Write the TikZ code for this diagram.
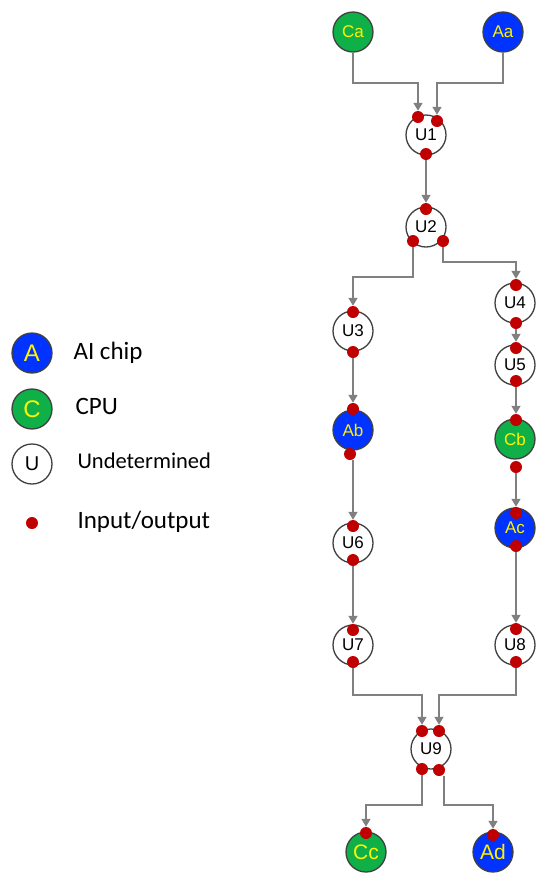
\documentclass[tikz,border=0pt]{standalone}
\usepackage{fontspec}
\setmainfont{Liberation Sans}
\newfontfamily\legendfont{Carlito}
\usetikzlibrary{arrows.meta}
\definecolor{chipblue}{RGB}{0,51,255}
\definecolor{cpugreen}{RGB}{16,176,72}
\definecolor{portred}{RGB}{192,0,0}
\definecolor{linkgray}{RGB}{128,128,128}
\definecolor{rimgray}{RGB}{64,64,64}
\newcommand\keysize{\fontsize{24}{24}\selectfont}
\tikzset{
    unit/.style={circle, draw=rimgray, line width=1.3pt, fill=white, minimum size=40pt, inner sep=0pt, font=\fontsize{17}{17}\selectfont},
    chip/.style={unit, fill=chipblue, text=yellow},
    cpu/.style={unit, fill=cpugreen, text=yellow},
    port/.style={circle, fill=portred, minimum size=12pt, inner sep=0pt},
    link/.style={draw=linkgray, line width=1.5pt, -{Triangle[width=9pt,length=8pt]}},
    legendtext/.style={anchor=west, font=\legendfont\fontsize{25}{25}\selectfont}
}
\begin{document}
\begin{tikzpicture}[x=1pt, y=-1pt]
    \useasboundingbox (0,0) rectangle (536,873);
    % 图例
    \node[chip] (keyA) at (32,353) {\keysize A};
    \node[legendtext] (keyAt) at (70,353) {AI chip};
    \node[cpu] (keyC) at (32,409) {\keysize C};
    \node[legendtext] (keyCt) at (72,406) {CPU};
    \node[unit] (keyU) at (32,464) {\fontsize{20}{20}\selectfont U};
    \node[legendtext, font=\legendfont\fontsize{22.5}{22.5}\selectfont] (keyUt) at (74,461) {Undetermined};
    \node[port] (keyP) at (32,523) {};
    \node[legendtext] (keyPt) at (74,522) {Input/output};
    % 单元
    \node[cpu] (ca) at (353,32) {Ca};
    \node[chip] (aa) at (503,32) {Aa};
    \node[unit] (u1) at (426,135) {U1};
    \node[unit] (u2) at (426,227) {U2};
    \node[unit] (u3) at (353,331) {U3};
    \node[unit] (u4) at (515,303) {U4};
    \node[unit] (u5) at (515,365) {U5};
    \node[chip] (ab) at (353,430) {Ab};
    \node[cpu] (cb) at (515,439) {Cb};
    \node[chip] (ac) at (515,528) {Ac};
    \node[unit] (u6) at (353,543) {U6};
    \node[unit] (u7) at (353,645) {U7};
    \node[unit] (u8) at (515,645) {U8};
    \node[unit] (u9) at (431,749) {U9};
    \node[cpu] (cc) at (366,852) {\fontsize{21}{21}\selectfont Cc};
    \node[chip] (ad) at (493,852) {\fontsize{21}{21}\selectfont Ad};
    % 输入/输出端口
    \node[port] (u1i1) at (418,117) {};
    \node[port] (u1i2) at (437,121) {};
    \node[port] (u1o) at (426,154) {};
    \node[port] (u2i) at (426,209) {};
    \node[port] (u2o1) at (413,241) {};
    \node[port] (u2o2) at (443,241) {};
    \node[port] (u3i) at (353,312) {};
    \node[port] (u3o) at (353,352) {};
    \node[port] (u4i) at (516,285) {};
    \node[port] (u4o) at (516,323) {};
    \node[port] (u5i) at (516,348) {};
    \node[port] (u5o) at (516,381) {};
    \node[port] (abi) at (353,409) {};
    \node[port] (abo) at (350,454) {};
    \node[port] (cbi) at (516,420) {};
    \node[port] (cbo) at (516,467) {};
    \node[port] (aci) at (516,513) {};
    \node[port] (aco) at (516,546) {};
    \node[port] (u6i) at (353,526) {};
    \node[port] (u6o) at (353,560) {};
    \node[port] (u7i) at (353,630) {};
    \node[port] (u7o) at (353,662) {};
    \node[port] (u8i) at (516,629) {};
    \node[port] (u8o) at (516,662) {};
    \node[port] (u9i1) at (422,731) {};
    \node[port] (u9i2) at (439,731) {};
    \node[port] (u9o1) at (422,769) {};
    \node[port] (u9o2) at (439,770) {};
    \node[port] (cci) at (366,833) {};
    \node[port] (adi) at (493,835) {};
    % 连线
    \draw[link] (ca) -- (ca |- 0,83) -| (u1i1);
    \draw[link] (aa) -- (aa |- 0,83) -| (u1i2);
    \draw[link] (u1o) -- (u2i);
    \draw[link] (u2o1) -- (u2o1 |- 0,277) -| (u3i);
    \draw[link] (u2o2) -- (u2o2 |- 0,262) -| (u4i);
    \draw[link] (u3o) -- (abi);
    \draw[link] (u4o) -- (u5i);
    \draw[link] (u5o) -- (cbi);
    \draw[link] (abo.south -| u6i) -- (u6i);
    \draw[link] (cbo) -- (aci);
    \draw[link] (u6o) -- (u7i);
    \draw[link] (aco) -- (u8i);
    \draw[link] (u7o) -- (u7o |- 0,695) -| (u9i1);
    \draw[link] (u8o) -- (u8o |- 0,695) -| (u9i2);
    \draw[link] (u9o1) -- (u9o1 |- 0,805) -| (cci);
    \draw[link] ([xshift=5pt]u9o2.south) -- ([xshift=5pt]u9o2.south |- 0,805) -| (adi);
\end{tikzpicture}
\end{document}
